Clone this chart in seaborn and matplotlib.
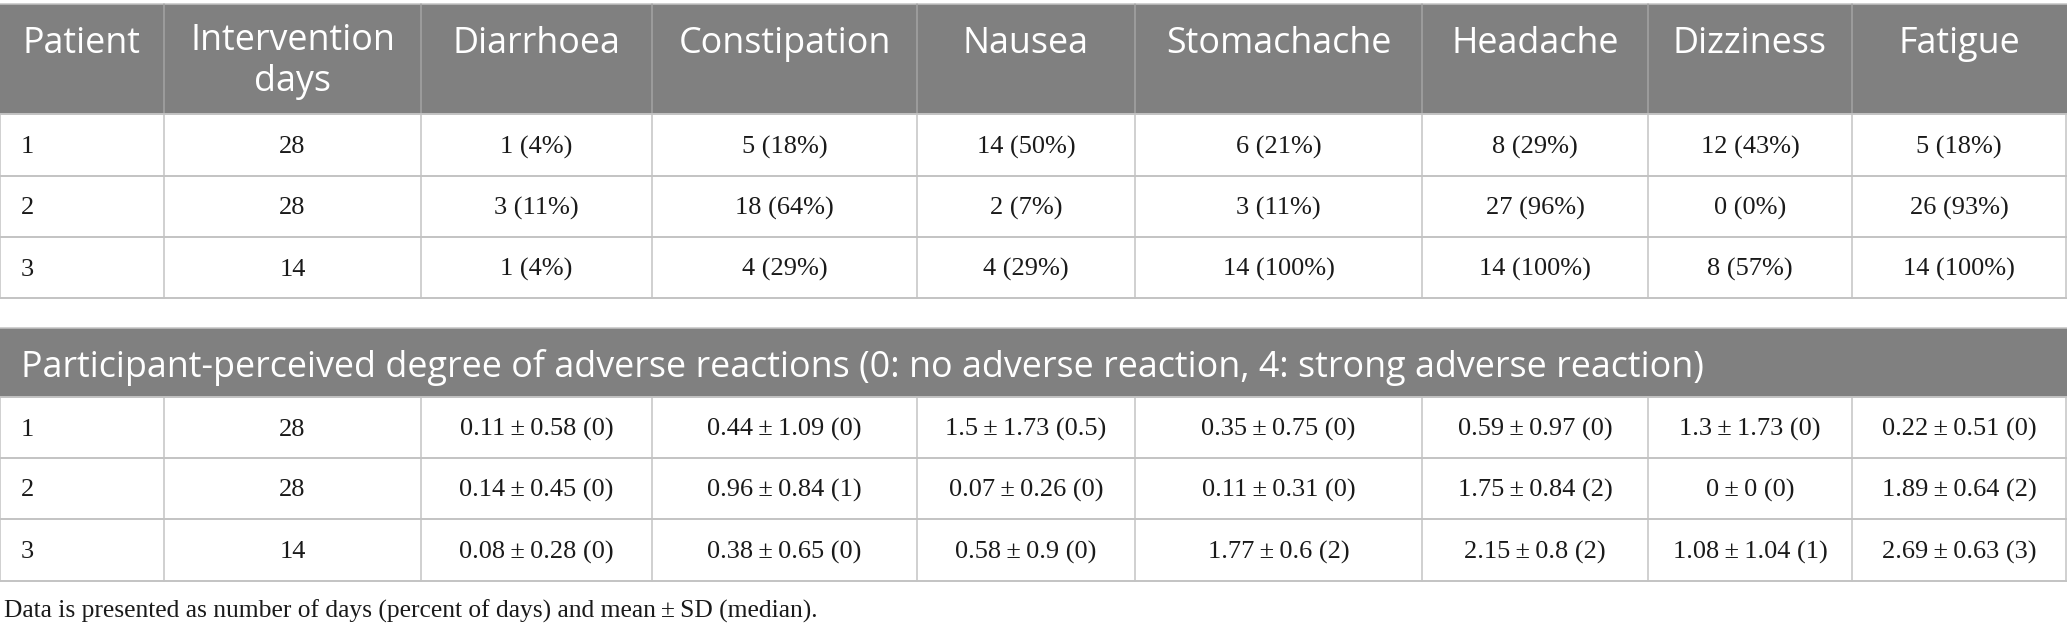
import matplotlib
matplotlib.use("Agg")
import matplotlib.pyplot as plt
import seaborn as sns
from matplotlib.patches import Rectangle

# table content
patients = ["1", "2", "3"]
days = [28, 28, 14]
symptoms = ["Diarrhoea", "Constipation", "Nausea", "Stomachache", "Headache", "Dizziness", "Fatigue"]

# number of days with symptom (rows = patients, cols = symptoms)
n_days = [[1, 5, 14, 6, 8, 12, 5],
          [3, 18, 2, 3, 27, 0, 26],
          [1, 4, 4, 14, 14, 8, 14]]
pct_days = [[4, 18, 50, 21, 29, 43, 18],
            [11, 64, 7, 11, 96, 0, 93],
            [4, 29, 29, 100, 100, 57, 100]]

# perceived degree: mean, SD, median
means = [[0.11, 0.44, 1.5, 0.35, 0.59, 1.3, 0.22],
         [0.14, 0.96, 0.07, 0.11, 1.75, 0, 1.89],
         [0.08, 0.38, 0.58, 1.77, 2.15, 1.08, 2.69]]
sds = [[0.58, 1.09, 1.73, 0.75, 0.97, 1.73, 0.51],
       [0.45, 0.84, 0.26, 0.31, 0.84, 0, 0.64],
       [0.28, 0.65, 0.9, 0.6, 0.8, 1.04, 0.63]]
medians = [[0, 0, 0.5, 0, 0, 0, 0],
           [0, 1, 0, 0, 2, 0, 2],
           [0, 0, 0, 2, 2, 1, 3]]

header2 = "Participant-perceived degree of adverse reactions (0: no adverse reaction, 4: strong adverse reaction)"
note = "Data is presented as number of days (percent of days) and mean\u2009\u00b1\u2009SD (median)."

sns.set_theme(style="white")

W, H = 2067, 633
fig = plt.figure(figsize=(W / 100, H / 100), dpi=100)
ax = fig.add_axes([0, 0, 1, 1])
ax.set_xlim(0, W)
ax.set_ylim(H, 0)
ax.axis("off")

head_col = "#808080"
line_col = "#c3c3c3"
txt_col = "#1a1a1a"
sans = "Open Sans"
serif = "Liberation Serif"
hsize = 25.8
bsize = 19

cols = [0, 164, 421, 652, 917, 1135, 1422, 1648, 1852, W - 1]
mids = [(a + b) / 2 for a, b in zip(cols[:-1], cols[1:])]
lw = 1.1


def body_rows(top, rows, cells):
    # horizontal and vertical grid lines + cell texts
    edges = [top] + rows
    for y in edges:
        ax.plot([0, W], [y, y], color=line_col, lw=lw + 0.3)
    for x in cols:
        ax.plot([x, x], [top, rows[-1]], color=line_col, lw=lw)
    for i, row in enumerate(cells):
        yc = (edges[i] + edges[i + 1]) / 2 + 2
        ax.text(21, yc, patients[i], ha="left", va="center", fontsize=bsize,
                family=serif, color=txt_col)
        ax.text(mids[1], yc, str(days[i]), ha="center", va="center",
                fontsize=bsize, family=serif, color=txt_col)
        for j, s in enumerate(row):
            ax.text(mids[j + 2], yc, s, ha="center", va="center",
                    fontsize=bsize, family=serif, color=txt_col)


# ---- table 1 : days with symptom
ax.add_patch(Rectangle((0, 4), W, 110, color=head_col, lw=0))
ax.plot([0, W], [4, 4], color=line_col, lw=lw)
for x in cols[1:-1]:
    ax.plot([x, x], [4, 114], color="#a4a4a4", lw=lw)
headers = ["Patient", "Intervention\ndays"] + symptoms
for m, h in zip(mids, headers):
    # baseline of the last line; first line baseline sits at y=53
    ax.text(m, 53 + 38 * h.count("\n"), h, ha="center", va="baseline",
            fontsize=hsize, family=sans, color="white", linespacing=1.18)

cells1 = [[f"{n} ({p}%)" for n, p in zip(nr, pr)] for nr, pr in zip(n_days, pct_days)]
body_rows(114, [176, 237, 298], cells1)

# ---- table 2 : perceived degree
ax.add_patch(Rectangle((0, 328), W, 69, color=head_col, lw=0))
ax.plot([0, W], [328, 328], color=line_col, lw=lw)
ax.text(21, 377, header2, ha="left", va="baseline", fontsize=hsize, family=sans,
        color="white")
cells2 = [[f"{m:g}\u2009\u00b1\u2009{s:g} ({md:g})" for m, s, md in zip(mr, sr, mdr)]
          for mr, sr, mdr in zip(means, sds, medians)]
body_rows(397, [458, 519, 581], cells2)

ax.text(4, 618, note, ha="left", va="baseline", fontsize=18.4, family=serif,
        color=txt_col)

fig.savefig("out.png", dpi=100, facecolor="white")
